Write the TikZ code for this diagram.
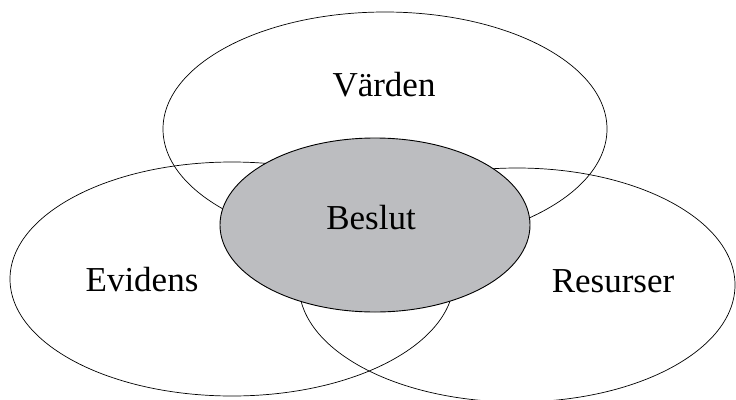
\documentclass[tikz,border=0pt]{standalone}
\usepackage{fontspec}
\setmainfont{Liberation Serif}
\usepackage{xcolor}
\usetikzlibrary{positioning,shapes.geometric}

\definecolor{beslutgray}{RGB}{188,189,192}

\begin{document}
\begin{tikzpicture}[
    x=1pt, y=-1pt,
    ring/.style={
      ellipse, draw=black, line width=0.7pt, inner sep=0pt,
      minimum width=444pt, minimum height=234pt
    },
    core/.style={
      ellipse, draw=black, line width=0.9pt, fill=beslutgray, inner sep=0pt,
      minimum width=310pt, minimum height=174pt
    },
    lbl/.style={anchor=base, inner sep=0pt, font=\fontsize{35}{40}\selectfont}
  ]
  \useasboundingbox (0,0) rectangle (736,399);

  % Outer ellipses
  \node[ring] (varden) at (385,129) {};
  \node[ring] (evidens) at (232,279) {};
  \node[ring, minimum width=436pt] (resurser) at (517,285) {};

  % Centre
  \node[core] (beslut) at (375,225) {};

  % Labels
  \node[lbl] (vardenlbl) at (384,96) {Värden};
  \node[lbl] (evidenslbl) at (142,291) {Evidens};
  \node[lbl] (resurserlbl) at (613,292) {Resurser};
  \node[lbl] (beslutlbl) at (371,229) {Beslut};

\end{tikzpicture}
\end{document}
